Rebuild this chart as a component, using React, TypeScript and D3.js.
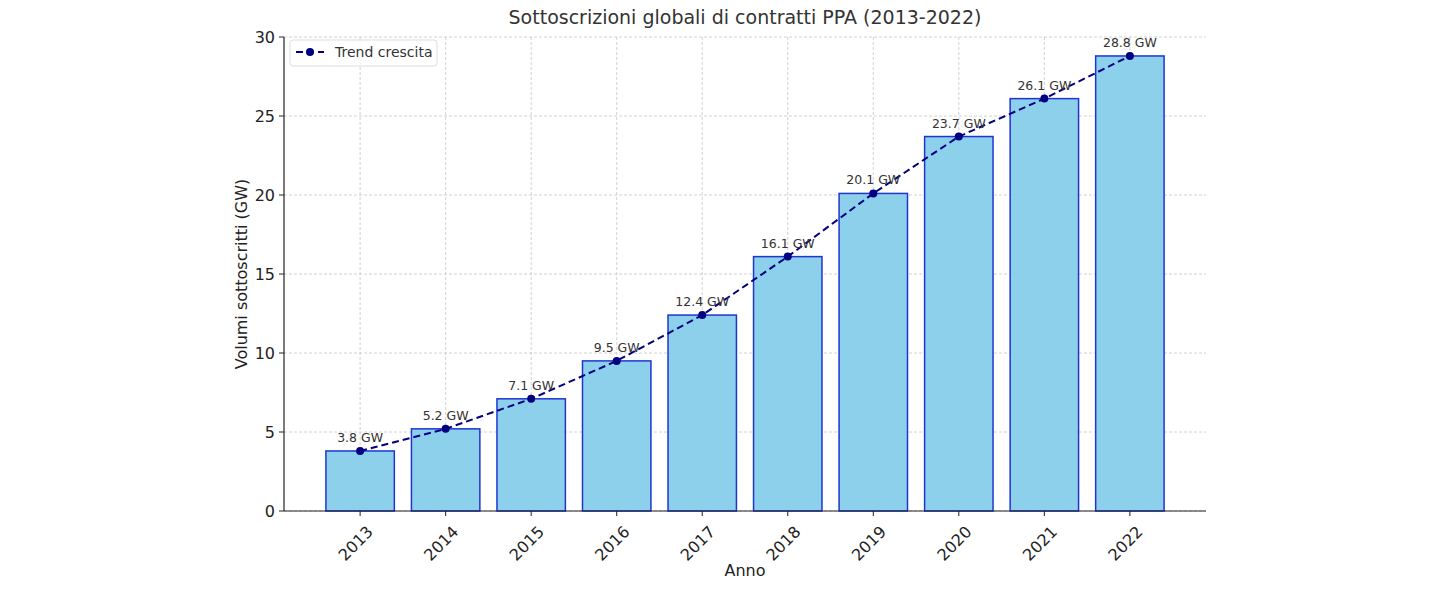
import React from 'react'
import * as d3 from 'd3'

const years = ['2013', '2014', '2015', '2016', '2017', '2018', '2019', '2020', '2021', '2022']
const volumes = [3.8, 5.2, 7.1, 9.5, 12.4, 16.1, 20.1, 23.7, 26.1, 28.8]
const yTicks = [0, 5, 10, 15, 20, 25, 30]

const W = 1440
const H = 590
const left = 284
const right = 1206
const top = 37
const bottom = 511

export default function App() {
  // matplotlib-like category axis: bars 0.8 wide, 5% margins
  const x = d3.scaleLinear().domain([-0.4 - 0.49, 9.4 + 0.49]).range([left, right])
  const y = d3.scaleLinear().domain([0, 30]).range([bottom, top])
  const bw = x(0.4) - x(-0.4)

  const line = d3.line<number>()
    .x((_, i) => x(i))
    .y(d => y(d))

  const font = 'DejaVu Sans, sans-serif'

  return (
    <svg width={W} height={H} style={{ position: 'absolute', left: 0, top: 0, background: '#fff' }} fontFamily={font}>
      <text x={(left + right) / 2} y={24} textAnchor="middle" fontSize={19} fill="#333">
        Sottoscrizioni globali di contratti PPA (2013-2022)
      </text>

      {/* grid, behind the bars */}
      <g stroke="#b0b0b0" strokeWidth={0.8} strokeDasharray="3,2" opacity={0.7}>
        {yTicks.map(t => (
          <line key={'gy' + t} x1={left} x2={right} y1={y(t)} y2={y(t)} />
        ))}
        {years.map((_, i) => (
          <line key={'gx' + i} x1={x(i)} x2={x(i)} y1={top} y2={bottom} />
        ))}
      </g>

      {volumes.map((v, i) => (
        <rect key={years[i]} x={x(i) - bw / 2} y={y(v)} width={bw} height={y(0) - y(v)}
          fill="#87CEEB" fillOpacity={0.95} stroke="#1f35d0" strokeWidth={1.5} />
      ))}

      <path d={line(volumes) || ''} fill="none" stroke="#000080" strokeWidth={2} strokeDasharray="7,4" />
      {volumes.map((v, i) => (
        <circle key={'p' + i} cx={x(i)} cy={y(v)} r={4} fill="#000080" />
      ))}

      {volumes.map((v, i) => (
        <text key={'l' + i} x={x(i)} y={y(v) - 9} textAnchor="middle" fontSize={12.5} fill="#333">
          {v.toFixed(1)} GW
        </text>
      ))}

      {/* spines */}
      <line x1={left} x2={left} y1={top} y2={bottom} stroke="#222" strokeWidth={1.2} />
      <line x1={left} x2={right} y1={bottom} y2={bottom} stroke="#222" strokeWidth={1.2} />

      {yTicks.map(t => (
        <g key={'yt' + t}>
          <line x1={left - 5} x2={left} y1={y(t)} y2={y(t)} stroke="#222" />
          <text x={left - 9} y={y(t)} dy="0.35em" textAnchor="end" fontSize={16} fill="#222">{t}</text>
        </g>
      ))}
      {years.map((yr, i) => (
        <g key={'xt' + yr}>
          <line x1={x(i)} x2={x(i)} y1={bottom} y2={bottom + 5} stroke="#222" />
          <text transform={`translate(${x(i) + 6},${bottom + 14}) rotate(-45)`} textAnchor="end" dy="0.7em"
            fontSize={16} fill="#222">{yr}</text>
        </g>
      ))}

      <text x={(left + right) / 2} y={576} textAnchor="middle" fontSize={16} fill="#222">Anno</text>
      <text transform={`translate(247,${(top + bottom) / 2}) rotate(-90)`} textAnchor="middle" fontSize={16} fill="#222">
        Volumi sottoscritti (GW)
      </text>

      {/* legend */}
      <g>
        <rect x={290} y={40} width={147} height={26} rx={3} fill="#fff" fillOpacity={0.8} stroke="#ddd" />
        <line x1={296} x2={324} y1={52} y2={52} stroke="#000080" strokeWidth={2} strokeDasharray="7,4" />
        <circle cx={310} cy={52} r={4} fill="#000080" />
        <text x={335} y={52} dy="0.35em" fontSize={14} fill="#333">Trend crescita</text>
      </g>
    </svg>
  )
}
